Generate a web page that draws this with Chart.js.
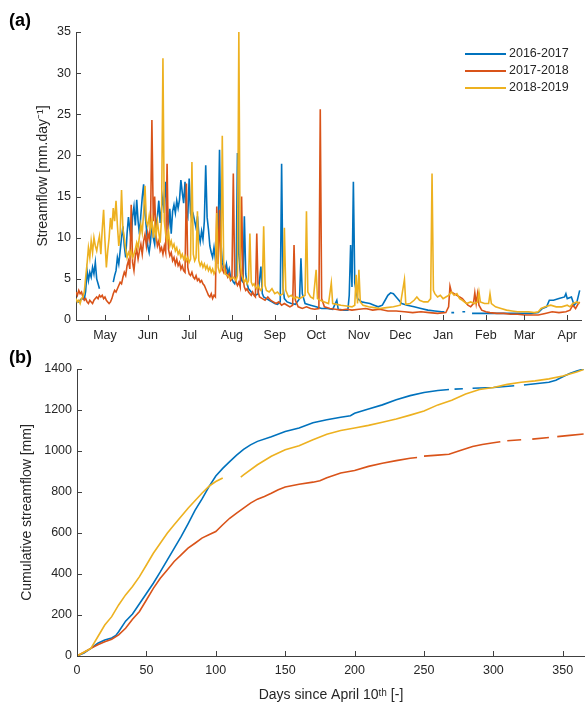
<!DOCTYPE html>
<html>
<head>
<meta charset="utf-8">
<script src="https://cdn.jsdelivr.net/npm/chart.js@4/dist/chart.umd.min.js"></script>
<style>
  body { margin: 0; background: #fff; font-family: "Liberation Sans", Arial, Helvetica, sans-serif; }
  #page { position: relative; width: 585px; height: 708px; overflow: hidden; }
  .panel { position: absolute; left: 0; }
  .tag { position: absolute; left: 9px; font-weight: bold; font-size: 18px; color: #000; }
  #legend { position: absolute; left: 465px; top: 45px; font-size: 12.5px; color: #262626; }
  #legend div { height: 17px; line-height: 17px; white-space: nowrap; }
  #legend span.ln { display: inline-block; width: 41px; height: 2px; vertical-align: middle; margin-right: 3px; }
</style>
</head>
<body>
<div id="page">
  <div class="panel" style="top:340px"><canvas id="cumChart" width="585" height="368"></canvas></div>
  <div class="panel" style="top:0"><canvas id="flowChart" width="585" height="350"></canvas></div>
  <div class="tag" style="top:10px">(a)</div>
  <div class="tag" style="top:347px">(b)</div>
  <div id="legend"></div>
</div>
<script>
// series names and colours (MATLAB default order)
const seriesNames = ['2016-2017', '2017-2018', '2018-2019'];
const seriesColors = ['#0072BD', '#D95319', '#EDB120'];

// panel (a) month ticks, as days since April 10th
const monthDays = [21, 52, 82, 113, 144, 174, 205, 235, 266, 297, 325, 356];
const monthLabels = ['May', 'Jun', 'Jul', 'Aug', 'Sep', 'Oct', 'Nov', 'Dec', 'Jan', 'Feb', 'Mar', 'Apr'];

// panel (a) daily streamflow [day, mm/day] (null = missing)
const flow2016 = [[0,2.4],[2,2.2],[4,2.6],[6,2.5],[7,3.5],[8,6.0],[9,4.8],[10,5.8],[11,5.2],[12,6.4],[13,5.6],[14,7.0],[15,5.0],[16,4.4],[17,3.8],[18,null],
  [27,4.6],[28,5.4],[29,6.0],[30,7.6],[31,6.8],[32,8.4],[33,10.0],[34,11.4],[35,9.0],[36,7.6],[37,10.5],[38,12.5],[39,11.0],[40,9.6],
  [41,12.6],[42,13.8],[43,11.5],[44,14.6],[45,12.0],[46,10.4],[47,12.8],[48,14.9],[49,16.5],[50,13.0],[51,11.2],[52,9.0],[53,8.2],[54,9.5],
  [55,12.0],[56,10.0],[57,9.2],[58,11.5],[59,12.6],[60,14.5],[61,11.8],[62,13.6],[63,15.0],[64,13.0],[65,16.8],[66,14.2],[67,11.0],[68,13.5],
  [69,10.5],[70,13.2],[71,14.0],[72,13.0],[73,14.5],[74,13.6],[75,14.6],[76,17.0],[77,15.5],[78,14.2],[79,16.8],[80,13.0],[81,12.5],[82,17.2],
  [83,13.0],[84,12.2],[85,12.8],[86,12.0],[87,11.2],[88,12.6],[89,10.5],[90,9.5],[91,10.8],[92,9.8],[93,12.0],[94,18.8],[95,12.5],[96,11.0],
  [97,9.0],[98,8.2],[99,7.6],[100,8.8],[101,7.4],[102,8.0],[103,9.6],[104,20.7],[105,9.5],[106,7.0],[107,6.4],[108,6.0],[109,6.8],[110,5.6],
  [111,6.2],[112,5.2],[113,5.0],[114,4.6],[115,4.4],[116,5.0],[117,20.3],[118,8.0],[119,6.0],[120,4.8],[121,4.6],[122,12.6],[123,5.6],[124,4.4],
  [125,3.8],[126,3.6],[127,3.4],[128,3.2],[130,3.0],[132,3.2],[134,6.5],[135,3.2],[136,2.8],[138,2.6],[140,2.4],[142,2.2],[144,2.0],[146,1.9],
  [148,2.2],[149,19.0],[150,4.0],[151,2.6],[153,2.2],[156,2.0],[159,1.9],[162,2.6],[163,7.5],[164,3.2],[166,2.0],[170,1.8],[174,1.6],[178,1.4],
  [182,1.4],[186,1.3],[189,2.4],[190,1.3],[194,1.2],[197,1.2],[198,3.0],[199,9.1],[200,4.0],[201,16.8],[202,4.5],[204,2.6],[207,2.2],[210,2.1],
  [213,2.0],[216,1.8],[219,1.6],[222,1.8],[224,2.4],[226,3.0],[228,3.3],[230,3.2],[232,2.8],[234,2.4],[236,2.0],[240,1.8],[245,1.6],[250,1.4],
  [255,1.2],[260,1.1],[265,1.0],[267,1.0],[268,null],[272,0.9],[274,0.9],[275,null],[280,1.0],[282,1.0],[283,null],[287,0.8],[300,0.8],[310,0.8],
  [320,0.8],[330,0.8],[335,0.9],[338,1.4],[341,1.6],[343,2.4],[346,2.4],[350,2.6],[354,2.8],[355,3.2],[356,2.6],[359,2.8],[361,1.8],[363,2.2],[365,3.6]];

const flow2017 = [[0,3.4],[1,3.0],[2,3.6],[3,3.2],[4,3.4],[5,2.8],[6,2.4],[7,2.6],[8,2.2],[9,2.0],[10,2.4],[11,2.2],[12,2.0],[13,2.4],[14,2.6],
  [15,2.8],[16,2.6],[17,3.0],[18,2.8],[19,3.0],[20,2.6],[21,2.8],[22,2.4],[23,2.2],[24,2.0],[25,2.2],[26,2.6],[27,3.2],[28,3.6],[29,3.4],[30,3.8],
  [31,4.2],[32,4.6],[33,4.4],[34,5.2],[35,5.8],[36,5.4],[37,6.6],[38,7.2],[39,6.2],[40,14.0],[41,7.0],[42,6.0],[43,7.8],[44,8.6],[45,7.4],
  [46,8.4],[47,9.2],[48,8.0],[49,9.6],[50,10.4],[51,9.0],[52,10.6],[53,9.8],[54,11.5],[55,24.3],[56,12.0],[57,15.0],[58,10.2],[59,9.0],[60,9.6],
  [61,8.4],[62,8.8],[63,8.0],[64,9.0],[65,8.2],[66,19.0],[67,8.6],[68,7.8],[69,8.2],[70,7.2],[71,7.6],[72,6.8],[73,7.4],[74,6.6],[75,7.0],
  [76,6.2],[77,6.6],[78,6.0],[79,5.8],[80,16.6],[81,6.4],[82,5.6],[83,5.4],[84,5.8],[85,5.2],[86,5.0],[87,5.4],[88,4.8],[89,5.0],[90,4.6],
  [91,4.8],[92,4.4],[93,4.2],[94,3.8],[95,3.4],[96,3.0],[97,2.8],[98,3.2],[99,2.6],[100,3.0],[101,2.8],[102,13.8],[103,6.8],[104,13.4],[105,7.0],
  [106,6.2],[107,5.8],[108,6.4],[109,5.6],[110,5.2],[111,5.6],[112,4.8],[113,5.0],[114,17.8],[115,5.4],[116,4.6],[117,4.2],[118,4.6],[119,4.0],
  [120,15.0],[121,5.0],[122,4.0],[123,3.6],[124,3.8],[125,3.4],[126,3.2],[127,3.0],[128,3.4],[129,3.0],[130,2.8],[131,10.5],[132,3.4],[133,2.8],
  [135,2.6],[137,2.4],[139,2.8],[141,2.4],[143,2.2],[145,2.0],[147,2.2],[149,1.8],[151,2.0],[153,1.8],[155,1.6],[157,1.8],[158,9.1],[159,2.4],
  [161,1.6],[164,1.4],[167,1.6],[170,1.4],[173,1.3],[176,1.4],[177,25.6],[178,2.6],[180,1.6],[184,1.4],[188,1.3],[192,1.2],[196,1.3],[200,1.2],
  [205,1.3],[210,1.4],[215,1.2],[220,1.3],[226,1.1],[232,1.1],[238,1.0],[244,0.9],[250,1.0],[256,0.9],[262,0.8],[268,0.9],[270,1.6],[271,4.1],
  [272,3.4],[274,3.2],[276,3.0],[278,2.8],[280,2.6],[282,2.2],[284,1.8],[286,1.6],[288,2.0],[289,3.3],[290,2.0],[291,3.2],[292,1.8],[294,1.2],
  [297,1.0],[300,0.9],[305,0.8],[310,0.8],[315,0.7],[320,0.7],[325,0.6],[330,0.6],[335,0.6],[340,0.8],[345,1.0],[350,0.9],[355,1.0],[358,1.2],
  [360,1.8],[362,1.4],[364,2.0],[365,2.2]];

const flow2018 = [[0,2.6],[1,2.2],[2,2.4],[3,2.0],[4,2.6],[5,2.8],[6,3.4],[7,5.2],[8,6.8],[9,8.8],[10,7.6],[11,9.6],[12,8.2],[13,10.0],[14,9.0],
  [15,8.4],[16,9.4],[17,10.2],[18,8.0],[19,11.0],[20,13.4],[21,9.6],[22,6.4],[23,8.4],[24,10.0],[25,12.4],[26,11.0],[27,13.6],[28,12.0],[29,14.5],
  [30,11.5],[31,9.0],[32,10.6],[33,15.8],[34,11.0],[35,10.0],[36,8.6],[37,7.6],[38,8.2],[39,7.8],[40,8.4],[41,7.6],[42,8.0],[43,8.6],[44,9.4],
  [45,8.8],[46,10.2],[47,11.6],[48,10.6],[49,13.0],[50,16.3],[51,12.0],[52,11.4],[53,12.6],[54,11.0],[55,12.2],[56,10.0],[57,11.6],[58,10.2],
  [59,12.0],[60,10.6],[61,9.4],[62,12.4],[63,31.8],[64,12.0],[65,10.4],[66,9.6],[67,10.8],[68,9.0],[69,9.6],[70,8.8],[71,9.2],[72,8.4],[73,8.8],
  [74,8.0],[75,8.4],[76,7.6],[77,8.0],[78,7.4],[79,7.8],[80,7.2],[81,7.6],[82,7.0],[83,7.4],[84,19.2],[85,8.0],[86,7.2],[87,7.6],[88,13.2],
  [89,7.2],[90,6.6],[91,7.0],[92,6.4],[93,6.8],[94,6.2],[95,6.6],[96,6.0],[97,6.4],[98,5.8],[99,6.2],[100,5.6],[101,6.0],[102,13.0],[103,6.4],
  [104,5.8],[105,6.0],[106,22.4],[107,7.0],[108,5.6],[110,5.4],[112,5.0],[114,5.2],[116,4.8],[117,5.4],[118,35.0],[119,7.0],[120,5.6],[121,5.0],
  [122,4.6],[123,5.0],[124,4.4],[125,4.8],[126,10.5],[127,4.6],[128,4.2],[129,4.4],[130,4.0],[131,3.8],[132,4.2],[133,3.8],[134,3.6],[135,4.0],
  [136,11.4],[137,4.2],[138,3.6],[140,3.4],[142,3.8],[144,3.2],[146,3.4],[148,3.0],[150,3.2],[151,11.2],[152,3.6],[154,2.8],[156,3.0],[158,2.6],
  [160,2.8],[162,2.6],[164,2.8],[166,3.0],[167,13.2],[168,3.4],[170,2.8],[172,2.6],[174,6.1],[175,2.6],[177,2.4],[180,2.2],[183,2.0],[185,4.5],
  [186,2.0],[189,1.9],[192,1.8],[196,1.7],[200,1.6],[202,1.8],[203,5.5],[204,2.0],[205,6.1],[206,2.2],[208,1.8],[212,1.6],[216,1.5],[220,1.4],
  [225,1.5],[230,1.6],[235,1.8],[238,4.9],[239,1.9],[242,2.0],[245,2.4],[247,2.8],[249,2.4],[252,2.2],[255,2.2],[257,2.6],[258,17.8],[259,3.6],
  [260,3.2],[262,2.8],[264,3.0],[266,2.6],[268,2.8],[270,3.0],[272,3.4],[274,3.0],[276,3.2],[278,2.6],[280,2.4],[283,2.0],[286,2.2],[289,2.0],
  [291,2.2],[292,3.4],[293,2.2],[296,2.0],[299,2.0],[300,3.2],[301,2.0],[304,1.6],[308,1.4],[312,1.2],[316,1.1],[320,1.0],[324,1.0],[328,1.0],
  [332,0.9],[335,1.0],[337,1.4],[340,1.6],[344,1.8],[348,1.6],[352,1.6],[356,1.8],[358,1.6],[360,2.0],[363,2.2],[365,2.0]];

// panel (b) cumulative streamflow [day, mm] (null = missing)
const cum2016 = [[0,0],[5,15],[10,37],[15,62],[20,78],[25,88],[28,100],[30,118],[35,170],[40,205],[45,255],[50,305],[55,355],[60,410],
  [65,468],[70,525],[75,582],[80,645],[85,710],[90,765],[95,825],[100,878],[105,915],[110,948],[115,980],[120,1008],[125,1030],[130,1047],
  [140,1070],[150,1095],[160,1112],[170,1138],[180,1152],[190,1165],[197,1172],[200,1184],[210,1205],[220,1225],[230,1250],[240,1270],
  [250,1285],[260,1295],[268,1300],[270,null],[272,1302],[278,1304],[280,null],[285,1306],[300,1310],[315,1318],[318,null],[322,1322],
  [340,1335],[345,1345],[350,1362],[355,1378],[360,1390],[365,1400]];

const cum2017 = [[0,0],[5,18],[10,37],[15,55],[20,70],[25,82],[30,103],[35,135],[40,179],[45,217],[50,273],[55,330],[60,379],[65,420],
  [70,461],[75,493],[80,526],[85,550],[90,575],[95,591],[100,607],[105,640],[110,672],[115,697],[120,721],[125,746],[130,765],[135,778],
  [140,794],[145,811],[150,824],[160,838],[170,848],[175,855],[180,870],[190,893],[200,905],[210,925],[220,940],[230,953],[240,965],[245,968],
  [247,null],[250,975],[260,980],[268,984],[275,1000],[285,1022],[292,1032],[300,1040],[305,1045],[307,null],[310,1050],[320,1055],[325,null],
  [328,1058],[340,1066],[343,null],[346,1070],[355,1076],[365,1083]];

const cum2018 = [[0,0],[5,18],[10,37],[15,94],[20,151],[25,192],[30,249],[35,298],[40,339],[45,387],[50,444],[55,501],[60,550],[65,599],
  [70,640],[75,680],[80,721],[85,757],[90,794],[95,827],[100,851],[105,868],[110,null],[118,873],[120,884],[130,933],[140,974],[150,1006],
  [160,1026],[170,1055],[180,1082],[190,1100],[200,1112],[210,1125],[220,1140],[230,1156],[240,1175],[250,1195],[260,1225],[270,1248],
  [280,1278],[290,1300],[300,1310],[310,1325],[320,1335],[330,1342],[340,1352],[350,1366],[360,1385],[365,1397]];

const daysTicks = [0, 50, 100, 150, 200, 250, 300, 350];

const axisColor = '#404040';
const textColor = '#262626';
const fontFamily = '"Liberation Sans", Arial, Helvetica, sans-serif';

// MATLAB style tick marks pointing into the plot
const innerTicks = {
    id: 'innerTicks',
    afterDraw(chart) {
        const { ctx, chartArea, scales } = chart;
        ctx.save();
        ctx.strokeStyle = axisColor;
        ctx.lineWidth = 1;
        ctx.beginPath();
        scales.x.ticks.forEach(t => {
            const px = Math.round(scales.x.getPixelForValue(t.value)) + 0.5;
            ctx.moveTo(px, chartArea.bottom);
            ctx.lineTo(px, chartArea.bottom - 5);
        });
        scales.y.ticks.forEach(t => {
            const py = Math.round(scales.y.getPixelForValue(t.value)) + 0.5;
            ctx.moveTo(chartArea.left, py);
            ctx.lineTo(chartArea.left + 5, py);
        });
        ctx.stroke();
        ctx.restore();
    }
};

function toPoints(pairs) {
    return pairs.map(p => ({ x: p[0], y: p[1] }));
}

function makeDatasets(list) {
    // last series on top, as in the original plot
    return list.map((pairs, i) => ({
        label: seriesNames[i],
        data: toPoints(pairs),
        borderColor: seriesColors[i],
        borderWidth: 1.6,
        pointRadius: 0,
        tension: 0,
        spanGaps: false,
        order: list.length - i
    }));
}

function baseOptions(cfg) {
    return {
        responsive: false,
        animation: false,
        events: [],
        layout: { padding: { top: cfg.padTop, left: 0, right: 0, bottom: 0 } },
        plugins: { legend: { display: false }, tooltip: { enabled: false } },
        scales: {
            x: {
                type: 'linear',
                min: 0,
                max: 366,
                afterFit: s => { s.height = cfg.xHeight; },
                afterBuildTicks: s => { s.ticks = cfg.xTicks.map(v => ({ value: v })); },
                grid: { display: false, drawTicks: false },
                border: { display: true, color: axisColor, width: 1 },
                ticks: {
                    autoSkip: false,
                    maxRotation: 0,
                    padding: cfg.xPad,
                    color: textColor,
                    font: { family: fontFamily, size: 12.5 },
                    callback: cfg.xLabel
                },
                title: cfg.xTitle
            },
            y: {
                min: 0,
                max: cfg.yMax,
                afterFit: s => { s.width = cfg.yWidth; },
                grid: { display: false, drawTicks: false },
                border: { display: true, color: axisColor, width: 1 },
                ticks: {
                    stepSize: cfg.yStep,
                    padding: 5,
                    color: textColor,
                    font: { family: fontFamily, size: 12.5 },
                    callback: v => String(v)
                },
                title: {
                    display: true,
                    text: cfg.yTitle,
                    color: textColor,
                    font: { family: fontFamily, size: 14 },
                    padding: { top: cfg.yTitlePad, bottom: 0 }
                }
            }
        }
    };
}

// panel (a): daily streamflow
new Chart(document.getElementById('flowChart'), {
    type: 'line',
    data: { datasets: makeDatasets([flow2016, flow2017, flow2018]) },
    options: baseOptions({
        padTop: 32, xHeight: 30, xPad: 8, yWidth: 76, yMax: 35, yStep: 5,
        xTicks: monthDays,
        xLabel: v => monthLabels[monthDays.indexOf(v)],
        xTitle: { display: false },
        yTitle: 'Streamflow [mm.day\u207B\u00B9]',
        yTitlePad: 35
    }),
    plugins: [innerTicks]
});

// panel (b): cumulative streamflow
new Chart(document.getElementById('cumChart'), {
    type: 'line',
    data: { datasets: makeDatasets([cum2016, cum2017, cum2018]) },
    options: baseOptions({
        padTop: 29, xHeight: 52, xPad: 7.5, yWidth: 77, yMax: 1400, yStep: 200,
        xTicks: daysTicks,
        xLabel: v => String(v),
        xTitle: {
            display: true,
            text: 'Days since April 10\u1D57\u02B0 [-]',
            color: textColor,
            font: { family: fontFamily, size: 14 },
            padding: { top: 0, bottom: 4.6 }
        },
        yTitle: 'Cumulative streamflow [mm]',
        yTitlePad: 19
    }),
    plugins: [innerTicks]
});

// legend drawn in the top right of panel (a)
const legend = document.getElementById('legend');
seriesNames.forEach((name, i) => {
    const row = document.createElement('div');
    row.innerHTML = '<span class="ln" style="background:' + seriesColors[i] + '"></span>' + name;
    legend.appendChild(row);
});
</script>
</body>
</html>
